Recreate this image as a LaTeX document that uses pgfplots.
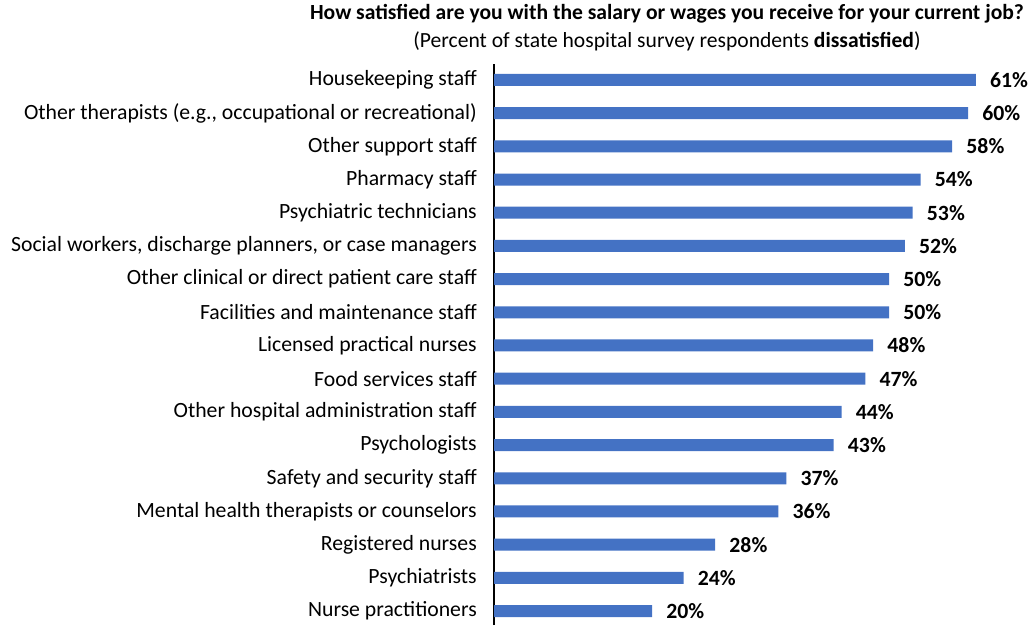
\documentclass[border=0pt]{standalone}
\usepackage{fontspec}
\setmainfont{Carlito}
\usepackage{pgfplots}
\pgfplotsset{compat=1.18}
\definecolor{barblue}{RGB}{68,114,196}
\begin{document}
\begin{tikzpicture}[font=\fontsize{16.3}{18}\selectfont]
\useasboundingbox (0,-3pt) rectangle (776.25pt,465.75pt);
\begin{axis}[
  at={(370.5pt,-3pt)}, anchor=south west,
  scale only axis, width=402.9pt, height=420.75pt,
  xbar, bar width=9pt,
  xmin=0, xmax=68, ymin=0.58, ymax=17.48,
  axis x line=none, axis y line*=left,
  axis line style={black, line width=0.9pt},
  ytick={1,...,17}, major tick length=0pt,
  yticklabels={Nurse practitioners, Psychiatrists, Registered nurses,
    Mental health therapists or counselors, Safety and security staff,
    Psychologists, Other hospital administration staff, Food services staff,
    Licensed practical nurses, Facilities and maintenance staff,
    {Other clinical or direct patient care staff},
    {Social workers, discharge planners, or case managers},
    Psychiatric technicians, Pharmacy staff, Other support staff,
    {Other therapists (e.g., occupational or recreational)}, Housekeeping staff},
  yticklabel style={font=\fontsize{16.3}{18}\selectfont, anchor=east, inner sep=0pt, xshift=-12.75pt},
  point meta=x,
  nodes near coords={\pgfmathprintnumber[assume math mode=true]{\pgfplotspointmeta}\%},
  every node near coord/.append style={font=\fontsize{16.3}{18}\selectfont\bfseries, anchor=west, inner sep=0pt, xshift=10.5pt},
  clip=false,
]
\addplot[fill=barblue, draw=none] coordinates {
  (20,1) (24,2) (28,3) (36,4) (37,5) (43,6) (44,7) (47,8) (48,9) (50,10)
  (50,11) (52,12) (53,13) (54,14) (58,15) (60,16) (61,17)
};
\end{axis}
\node[font=\fontsize{16.2}{18}\selectfont\bfseries] at (500.25pt,455.25pt) {How satisfied are you with the salary or wages you receive for your current job?};
\node[font=\fontsize{16.2}{18}\selectfont] at (500.25pt,435pt) {(Percent of state hospital survey respondents \textbf{dissatisfied})};
\end{tikzpicture}
\end{document}
